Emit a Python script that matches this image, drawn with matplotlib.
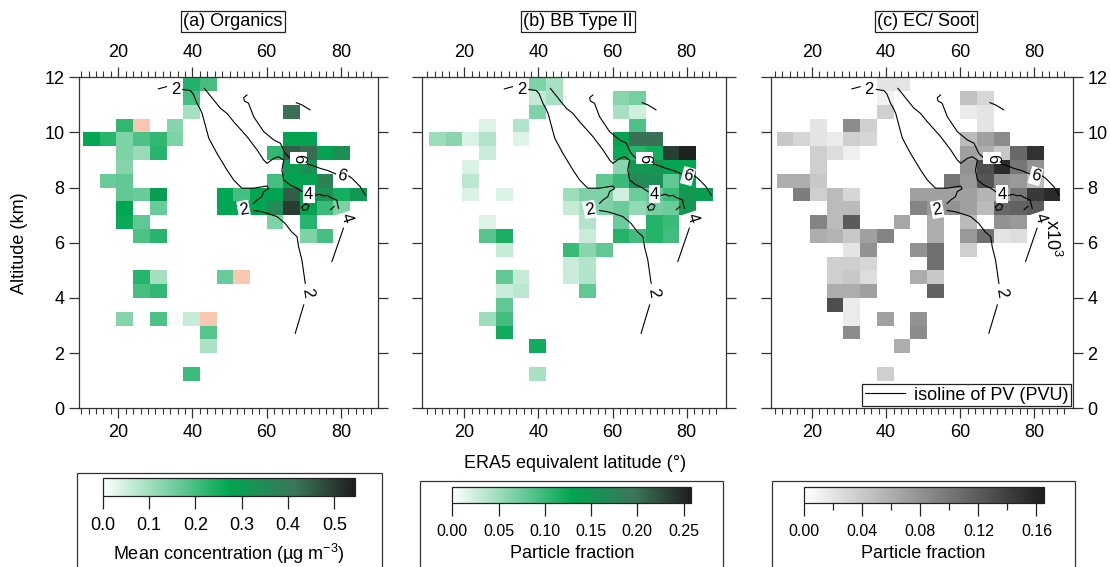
import numpy as np
import matplotlib
matplotlib.use('Agg')
import matplotlib.pyplot as plt
from matplotlib.colors import LinearSegmentedColormap
import matplotlib.patches as mpatches
import matplotlib.cm as cm
from matplotlib.colors import Normalize

plt.rcParams['font.family'] = ['Liberation Sans', 'DejaVu Sans']
plt.rcParams['mathtext.fontset'] = 'custom'
plt.rcParams['mathtext.rm'] = 'Liberation Sans'
plt.rcParams['mathtext.it'] = 'Liberation Sans:italic'

# ---------------- data ----------------
lat_edges = np.arange(10.5, 87.1, 4.5)
alt_edges = np.arange(0.0, 12.01, 0.5)

# (a) Organics, mean concentration (ug m-3); negative -> salmon
org_alt = [11.75, 11.75, 11.25, 10.75, 10.75, 10.25, 10.25, 10.25,
           9.75, 9.75, 9.75, 9.75, 9.75, 9.75, 9.75, 9.75,
           9.25, 9.25, 9.25, 9.25, 9.25, 9.25, 9.25, 9.25,
           8.75, 8.75, 8.75,
           8.25, 8.25, 8.25, 8.25, 8.25, 8.25,
           7.75, 7.75, 7.75, 7.75, 7.75, 7.75, 7.75, 7.75, 7.75, 7.75, 7.75, 7.75,
           7.25, 7.25, 7.25, 7.25, 7.25, 7.25, 7.25, 7.25, 7.25, 7.25,
           6.75, 6.75, 6.75, 6.75,
           6.25, 6.25, 6.25, 6.25,
           4.75, 4.75, 4.75, 4.75,
           4.25, 4.25,
           3.25, 3.25, 3.25, 3.25, 3.25,
           2.75, 2.25, 1.25]
org_lat = [39.75, 44.25, 39.75, 39.75, 66.75, 21.75, 26.25, 35.25,
           12.75, 17.25, 21.75, 26.25, 30.75, 35.25, 66.75, 71.25,
           21.75, 26.25, 30.75, 62.25, 66.75, 71.25, 75.75, 80.25,
           21.75, 66.75, 71.25,
           17.25, 21.75, 62.25, 66.75, 71.25, 75.75,
           21.75, 26.25, 30.75, 48.75, 53.25, 57.75, 62.25, 66.75, 71.25, 75.75, 80.25, 84.75,
           21.75, 30.75, 48.75, 53.25, 57.75, 62.25, 66.75, 71.25, 75.75, 80.25,
           21.75, 26.25, 62.25, 71.25,
           26.25, 30.75, 71.25, 75.75,
           26.25, 30.75, 48.75, 53.25,
           26.25, 30.75,
           21.75, 30.75, 35.25, 39.75, 44.25,
           44.25, 44.25, 39.75]
org_val = [0.235, 0.20, 0.20, 0.10, 0.42, 0.22, -0.05, 0.13,
           0.27, 0.23, 0.14, 0.19, 0.22, 0.14, 0.28, 0.28,
           0.14, 0.11, 0.23, 0.22, 0.45, 0.43, 0.28, 0.34,
           0.13, 0.30, 0.34,
           0.16, 0.17, 0.20, 0.28, 0.28, 0.38,
           0.17, 0.16, 0.30, 0.27, 0.20, 0.27, 0.28, 0.45, 0.30, 0.33, 0.25, 0.31,
           0.27, 0.16, 0.27, 0.27, 0.28, 0.36, 0.50, 0.28, 0.21, 0.14,
           0.26, 0.17, 0.14, 0.23,
           0.19, 0.23, 0.14, 0.20,
           0.23, 0.10, 0.16, -0.05,
           0.20, 0.22,
           0.13, 0.19, 0.01, 0.06, -0.05,
           0.18, 0.09, 0.21]

# (b) BB Type II particle fraction
bb_alt = [11.75, 11.75, 11.25, 11.25, 11.25, 11.25, 10.75, 10.75, 10.75,
          10.25, 10.25, 10.25,
          9.75, 9.75, 9.75, 9.75, 9.75, 9.75, 9.75, 9.75,
          9.25, 9.25, 9.25, 9.25, 9.25, 9.25,
          8.75, 8.75, 8.75, 8.75, 8.75, 8.75,
          8.25, 8.25, 8.25, 8.25, 8.25, 8.25, 8.25,
          7.75, 7.75, 7.75, 7.75, 7.75, 7.75, 7.75, 7.75, 7.75, 7.75, 7.75,
          7.25, 7.25, 7.25, 7.25, 7.25, 7.25, 7.25, 7.25,
          6.75, 6.75, 6.75, 6.75, 6.75,
          6.25, 6.25, 6.25, 6.25, 6.25, 6.25, 6.25,
          5.75, 5.75, 5.75, 5.75,
          5.25, 5.25,
          4.75, 4.75, 4.75, 4.75,
          4.25, 4.25, 4.25,
          3.75, 3.25, 3.25, 2.75, 2.25, 1.25]
bb_lat = [39.75, 44.25, 39.75, 44.25, 62.25, 66.75, 39.75, 62.25, 66.75,
          26.25, 35.25, 66.75,
          12.75, 17.25, 21.75, 26.25, 35.25, 62.25, 66.75, 71.25,
          26.25, 62.25, 66.75, 71.25, 75.75, 80.25,
          21.75, 62.25, 66.75, 71.25, 75.75, 80.25,
          21.75, 57.75, 62.25, 66.75, 71.25, 75.75, 80.25,
          21.75, 30.75, 48.75, 53.25, 57.75, 62.25, 66.75, 71.25, 75.75, 80.25, 84.75,
          48.75, 53.25, 57.75, 62.25, 66.75, 71.25, 75.75, 80.25,
          26.25, 53.25, 62.25, 71.25, 75.75,
          26.25, 30.75, 53.25, 62.25, 66.75, 71.25, 75.75,
          30.75, 48.75, 53.25, 57.75,
          48.75, 53.25,
          30.75, 35.25, 48.75, 53.25,
          30.75, 35.25, 53.25,
          30.75, 26.25, 30.75, 30.75, 39.75, 39.75]
bb_val = [0.065, 0.045, 0.03, 0.045, 0.06, 0.07, 0.065, 0.045, 0.025,
          0.018, 0.04, 0.09,
          0.05, 0.06, 0.02, 0.04, 0.018, 0.135, 0.20, 0.20,
          0.028, 0.125, 0.11, 0.12, 0.235, 0.255,
          0.02, 0.06, 0.15, 0.15, 0.13, 0.13,
          0.035, 0.08, 0.10, 0.17, 0.16, 0.08, 0.13,
          0.02, 0.02, 0.05, 0.065, 0.065, 0.025, 0.075, 0.08, 0.10, 0.15, 0.14,
          0.03, 0.045, 0.065, 0.075, 0.055, 0.07, 0.075, 0.15,
          0.018, 0.04, 0.075, 0.11, 0.10,
          0.085, 0.115, 0.028, 0.11, 0.095, 0.11, 0.095,
          0.03, 0.10, 0.06, 0.08,
          0.028, 0.04,
          0.08, 0.03, 0.028, 0.04,
          0.028, 0.035, 0.08,
          0.08, 0.05, 0.095, 0.12, 0.12, 0.045]

# (c) EC / Soot particle fraction
ec_alt = [11.75, 11.75, 11.25, 11.25, 11.25, 10.75, 10.75, 10.75,
          10.25, 10.25, 10.25, 10.25,
          9.75, 9.75, 9.75, 9.75, 9.75, 9.75, 9.75, 9.75, 9.75,
          9.25, 9.25, 9.25, 9.25, 9.25, 9.25, 9.25, 9.25,
          8.75, 8.75, 8.75, 8.75, 8.75, 8.75,
          8.25, 8.25, 8.25, 8.25, 8.25, 8.25, 8.25, 8.25, 8.25, 8.25,
          7.75, 7.75, 7.75, 7.75, 7.75, 7.75, 7.75, 7.75, 7.75, 7.75, 7.75, 7.75, 7.75,
          7.25, 7.25, 7.25, 7.25, 7.25, 7.25, 7.25, 7.25, 7.25, 7.25,
          6.75, 6.75, 6.75, 6.75, 6.75, 6.75, 6.75, 6.75,
          6.25, 6.25, 6.25, 6.25, 6.25, 6.25, 6.25, 6.25, 6.25, 6.25,
          5.75, 5.75, 5.75, 5.75, 5.75,
          5.25, 5.25, 5.25, 5.25,
          4.75, 4.75, 4.75, 4.75, 4.75,
          4.25, 4.25, 4.25, 4.25,
          3.75, 3.75,
          3.25, 3.25, 3.25,
          2.75, 2.75, 2.25, 1.25]
ec_lat = [39.75, 44.25, 39.75, 62.25, 66.75, 39.75, 62.25, 66.75,
          21.75, 30.75, 35.25, 66.75,
          12.75, 17.25, 21.75, 26.25, 30.75, 35.25, 62.25, 66.75, 71.25,
          21.75, 26.25, 30.75, 62.25, 66.75, 71.25, 75.75, 80.25,
          21.75, 62.25, 66.75, 71.25, 75.75, 80.25,
          12.75, 17.25, 21.75, 57.75, 62.25, 66.75, 71.25, 75.75, 80.25, 57.75,
          17.25, 21.75, 26.25, 30.75, 48.75, 53.25, 57.75, 62.25, 66.75, 71.25, 75.75, 80.25, 84.75,
          26.25, 30.75, 48.75, 53.25, 57.75, 62.25, 66.75, 71.25, 75.75, 80.25,
          21.75, 26.25, 30.75, 44.25, 53.25, 62.25, 71.25, 75.75,
          21.75, 26.25, 30.75, 35.25, 39.75, 53.25, 62.25, 66.75, 71.25, 75.75,
          30.75, 35.25, 48.75, 53.25, 62.25,
          26.25, 30.75, 35.25, 53.25,
          26.25, 30.75, 35.25, 48.75, 53.25,
          26.25, 30.75, 35.25, 53.25,
          26.25, 30.75,
          30.75, 39.75, 48.75,
          30.75, 48.75, 44.25, 39.75]
ec_val = [0.02, 0.02, 0.01, 0.045, 0.03, 0.035, 0.015, 0.02,
          0.02, 0.085, 0.035, 0.02,
          0.04, 0.03, 0.02, 0.015, 0.035, 0.03, 0.05, 0.07, 0.085,
          0.035, 0.025, 0.012, 0.07, 0.06, 0.04, 0.11, 0.15,
          0.035, 0.08, 0.13, 0.155, 0.10, 0.08,
          0.06, 0.06, 0.04, 0.10, 0.075, 0.125, 0.08, 0.075, 0.05, 0.10,
          0.095, 0.035, 0.05, 0.03, 0.07, 0.07, 0.07, 0.07, 0.055, 0.06, 0.10, 0.145, 0.155,
          0.05, 0.05, 0.09, 0.075, 0.08, 0.07, 0.05, 0.11, 0.115, 0.12,
          0.09, 0.05, 0.12, 0.065, 0.06, 0.05, 0.08, 0.075,
          0.06, 0.055, 0.04, 0.07, 0.09, 0.06, 0.075, 0.105, 0.02, 0.025,
          0.02, 0.08, 0.08, 0.105, 0.035,
          0.035, 0.035, 0.03, 0.105,
          0.035, 0.04, 0.025, 0.06, 0.04,
          0.06, 0.06, 0.07, 0.115,
          0.13, 0.015,
          0.015, 0.07, 0.08,
          0.085, 0.085, 0.06, 0.035]

# PV isolines (latitude, altitude)
pv2_a_lat = [30.8, 33.0]
pv2_a_alt = [11.58, 11.66]
pv2_b_lat = [37.4, 39.4, 40.2, 41.2, 42.1, 42.6, 44.4, 46.6, 49.3, 51.1, 53.3, 56.5, 60.1, 60.5, 59.2, 58.7, 57.4, 56.5]
pv2_b_alt = [11.56, 11.52, 11.4, 11.06, 10.84, 10.69, 9.79, 9.24, 8.64, 8.28, 7.98, 7.98, 8.06, 7.96, 7.86, 7.67, 7.55, 7.43]
pv2_c_lat = [56.5, 58.5, 60.1, 62.8, 65.0, 66.7, 68.2, 68.6, 69.5, 70.4]
pv2_c_alt = [7.17, 7.13, 7.07, 6.95, 6.7, 6.4, 6.22, 5.86, 5.38, 4.53]
pv2_d_lat = [70.0, 67.7]
pv2_d_alt = [3.75, 2.72]
pv4_a_lat = [43.2, 45.7, 47.5, 49.3, 51.1, 54.7, 57.4, 59.2, 60.1, 61.9, 63.2, 64.6, 64.1, 64.6, 66.3, 68.2, 69.6]
pv4_a_alt = [11.6, 11.18, 10.88, 10.69, 10.39, 9.85, 9.37, 9.0, 8.88, 9.06, 9.12, 9.0, 8.64, 8.28, 8.1, 7.98, 7.85]
pv4_b_lat = [73.1, 74.2, 75.3, 76.3, 77.1, 78.9, 79.1, 79.4]
pv4_b_alt = [7.72, 7.76, 7.7, 7.72, 7.65, 7.55, 7.4, 7.25]
pv4_c_lat = [77.2, 78.2]
pv4_c_alt = [7.2, 7.32]
pv4_d_lat = [80.7, 77.6]
pv4_d_alt = [6.53, 5.32]
pv4_e_lat = [69.5, 70.5, 71.4, 71.0, 69.8, 69.5]
pv4_e_alt = [7.3, 7.42, 7.35, 7.2, 7.18, 7.3]
pv6_a_lat = [54.7, 53.8, 54.0, 55.1, 56.5, 59.2, 61.9, 63.7, 65.0, 66.4, 67.3]
pv6_a_alt = [11.36, 11.26, 11.14, 11.06, 10.57, 10.03, 9.73, 9.61, 9.24, 9.06, 9.03]
pv6_b_lat = [69.9, 72.0, 74.4, 76.5, 78.6]
pv6_b_alt = [8.9, 8.82, 8.7, 8.62, 8.5]
pv6_c_lat = [81.8, 83.0, 85.2, 86.6]
pv6_c_alt = [8.45, 8.34, 8.04, 7.73]
pv6_d_lat = [68.0, 69.5, 71.7]
pv6_d_alt = [11.08, 11.0, 10.82]

# contour labels: text, lat, alt, rotation, boxed
pv_lab_txt = ['2', '2', '2', '4', '4', '6', '6']
pv_lab_lat = [35.4, 53.8, 71.0, 71.3, 81.5, 68.6, 80.3]
pv_lab_alt = [11.56, 7.21, 4.17, 7.76, 6.9, 9.06, 8.42]
pv_lab_rot = [0, 10, -80, 0, -72, -90, -15]

titles = ['(a) Organics', '(b) BB Type II', '(c) EC/ Soot']
vmaxs = [0.545, 0.258, 0.165]
cb_ticks = [[0.0, 0.1, 0.2, 0.3, 0.4, 0.5],
            [0.0, 0.05, 0.10, 0.15, 0.20, 0.25],
            [0.0, 0.04, 0.08, 0.12, 0.16]]
cb_ticklabels = [['0.0', '0.1', '0.2', '0.3', '0.4', '0.5'],
                 ['0.00', '0.05', '0.10', '0.15', '0.20', '0.25'],
                 ['0.00', '0.04', '0.08', '0.12', '0.16']]
cb_labels = ['Mean concentration (µg m$^{-3}$)', 'Particle fraction', 'Particle fraction']

# ---------------- style ----------------
W, H = 1110, 567
green = LinearSegmentedColormap.from_list(
    'grn', [(0, '#ffffff'), (0.5, '#00a651'), (0.76, '#3c7659'), (1.0, '#1e1e1e')])
green.set_under('#f9c6b0')
grey = LinearSegmentedColormap.from_list('gry', ['#ffffff', '#1e1e1e'])
cmaps = [green, green, grey]
SP = '#333333'

fig = plt.figure(figsize=(W / 100, H / 100), dpi=100)


def px_axes(l, r, t, b):
    return fig.add_axes([l / W, 1 - b / H, (r - l) / W, (b - t) / H])


def to_grid(lats, alts, vals):
    Z = np.full((len(alt_edges) - 1, len(lat_edges) - 1), np.nan)
    for la, al, v in zip(lats, alts, vals):
        i = np.searchsorted(lat_edges, la) - 1
        j = np.searchsorted(alt_edges, al) - 1
        Z[j, i] = v
    return np.ma.masked_invalid(Z)


panels = [(79, 378.3, 9.4, 90.1), (421.7, 726, 8.5, 90.6), (770.7, 1072.7, 8.9, 90.3)]
datasets = [(org_lat, org_alt, org_val), (bb_lat, bb_alt, bb_val), (ec_lat, ec_alt, ec_val)]
lines = [(pv2_a_lat, pv2_a_alt), (pv2_b_lat, pv2_b_alt), (pv2_c_lat, pv2_c_alt),
         (pv2_d_lat, pv2_d_alt), (pv4_a_lat, pv4_a_alt), (pv4_b_lat, pv4_b_alt),
         (pv4_c_lat, pv4_c_alt), (pv4_d_lat, pv4_d_alt), (pv4_e_lat, pv4_e_alt),
         (pv6_a_lat, pv6_a_alt), (pv6_b_lat, pv6_b_alt), (pv6_c_lat, pv6_c_alt),
         (pv6_d_lat, pv6_d_alt)]

axes = []
for k, (l, r, x0, x1) in enumerate(panels):
    ax = px_axes(l, r, 77.3, 408.3)
    axes.append(ax)
    Z = to_grid(*datasets[k])
    ax.pcolormesh(lat_edges, alt_edges, Z, cmap=cmaps[k], vmin=0, vmax=vmaxs[k],
                  shading='flat', zorder=1)
    for la, al in lines:
        ax.plot(la, al, color='black', lw=0.8, zorder=3)
    for t, la, al, rot in zip(pv_lab_txt, pv_lab_lat, pv_lab_alt, pv_lab_rot):
        ax.text(la, al, t, fontsize=12, rotation=rot, ha='center', va='center',
                zorder=5, bbox=dict(boxstyle='square,pad=0.08', fc='white', ec='none'))
    ax.set_xlim(x0, x1)
    ax.set_ylim(0, 12)
    ax.set_xticks([20, 40, 60, 80])
    ax.set_xticks(np.arange(10, 90, 2), minor=True)
    ax.set_yticks(np.arange(0, 13, 2))
    ax.tick_params(axis='x', which='major', direction='out', top=True, bottom=True,
                   labeltop=True, labelbottom=True, length=7.5, width=0.9,
                   color=SP, labelsize=13, pad=4)
    ax.tick_params(axis='x', which='minor', direction='out', top=True, bottom=True,
                   length=4.3, width=0.8, color=SP)
    ax.tick_params(axis='y', which='major', direction='out', left=True, right=True,
                   labelleft=(k == 0), labelright=(k == 2), length=7.5, width=0.9,
                   color=SP, labelsize=13, pad=3)
    for s in ax.spines.values():
        s.set_color(SP)
        s.set_linewidth(0.9)
    xc = (l + r) / 2
    fig.text((xc + 4) / W, 1 - 21.7 / H, titles[k], fontsize=13, ha='center', va='center',
             bbox=dict(boxstyle='square,pad=0.12', fc='white', ec='#222222', lw=0.9))

# legend in panel (c)
axes[2].plot([], [], color='black', lw=0.8, label='isoline of PV (PVU)')
leg = axes[2].legend(loc='lower right', frameon=True, fancybox=False, fontsize=13,
                     borderpad=0.15, handlelength=2.2, handletextpad=0.5,
                     borderaxespad=0.1, framealpha=1)
leg.get_frame().set_edgecolor('#222222')
leg.get_frame().set_linewidth(0.9)

fig.text(20 / W, 1 - 243 / H, 'Altitude (km)', rotation=90, fontsize=13,
         ha='center', va='center')
fig.text(575 / W, 1 - 463 / H, 'ERA5 equivalent latitude (°)', fontsize=13,
         ha='center', va='center')
fig.text(1052 / W, 1 - 238 / H, 'x10$^{3}$', rotation=-90, fontsize=13,
         ha='center', va='center')

# colorbars
cb_boxes = [(77.3, 381.7, 473.3), (420, 723.3, 481), (772.3, 1075, 481)]
cb_grads = [(102.7, 355.3, 478.3, 495.7), (452.3, 691, 486.7, 503.3),
            (804.3, 1043.7, 486.7, 503.3)]
cb_label_x = [229, 572, 923]
cb_tick_fs = [13, 11.5, 11.5]
for k in range(3):
    bl, br, bt = cb_boxes[k]
    fig.patches.append(mpatches.Rectangle((bl / W, -0.05), (br - bl) / W, 1 - bt / H + 0.05,
                                          transform=fig.transFigure, fill=False,
                                          ec='#333333', lw=0.9))
    gl, gr, gt, gb = cb_grads[k]
    cax = px_axes(gl, gr, gt, gb)
    sm = cm.ScalarMappable(norm=Normalize(0, vmaxs[k]), cmap=cmaps[k])
    cb = fig.colorbar(sm, cax=cax, orientation='horizontal')
    cb.set_ticks(cb_ticks[k])
    cb.set_ticklabels(cb_ticklabels[k])
    if k == 2:
        cb.ax.set_xticks([0.02, 0.06, 0.10, 0.14], minor=True)
        cb.ax.tick_params(which='minor', length=5, width=0.9, color='#222222')
    else:
        cb.ax.minorticks_off()
    cb.ax.tick_params(which='major', direction='out', length=9, width=0.9,
                      color='#222222', labelsize=cb_tick_fs[k], pad=6)
    cb.outline.set_linewidth(0.9)
    cb.outline.set_edgecolor('#222222')
    fig.text(cb_label_x[k] / W, 1 - 553.5 / H, cb_labels[k], fontsize=13,
             ha='center', va='center')

fig.savefig('out.png', dpi=100)
